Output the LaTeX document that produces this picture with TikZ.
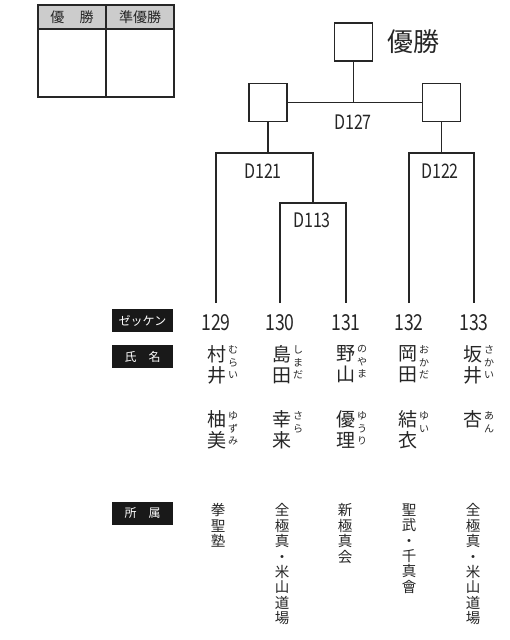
\documentclass[tikz,border=0pt]{standalone}
\usepackage{fontspec}
\setmainfont{Noto Sans CJK JP}
\newfontfamily\numfont[FakeStretch=0.8]{Noto Sans CJK JP}
\usetikzlibrary{positioning}

\begin{document}
\begin{tikzpicture}[x=1pt,y=-1pt,line width=1.4pt,color=black!85,
    winbox/.style={draw,minimum size=38pt,inner sep=0pt},
    num/.style={inner sep=0pt,font=\numfont\fontsize{22}{22}\selectfont},
    mlabel/.style={inner sep=0pt,font=\numfont\fontsize{20}{20}\selectfont},
    hdr/.style={inner sep=0pt,font=\fontsize{14}{14}\selectfont},
    tag/.style={fill=black!90,text=white,minimum width=61pt,minimum height=23pt,inner sep=0pt,font=\fontsize{12}{12}\selectfont},
    kanji/.style={anchor=north,inner sep=0pt,align=center,font=\fontsize{19}{20.5}\selectfont},
    kana/.style={anchor=north west,inner sep=0pt,align=center,font=\fontsize{10}{12.5}\selectfont},
    club/.style={anchor=north,inner sep=0pt,align=center,font=\fontsize{14.5}{15.4}\selectfont}]

    \useasboundingbox (0,0) rectangle (509,640);

    %draw table:
    \fill[black!20] (38,5) rectangle (174,29);
    \draw (38,5) rectangle (174,97);
    \draw (38,29) -- (174,29);
    \draw (106,5) -- (106,97);
    \node[hdr] (hwin) at (72,17) {優\hspace{1.1em}勝};
    \node[hdr] (hrun) at (140,17) {準優勝};

    %draw boxes:
    \node[winbox] (fin) at (353.5,42) {};
    \node[right=14pt of fin,inner sep=0pt,font=\fontsize{26}{26}\selectfont] (champ) {優勝};
    \node[winbox] (semi1) at (268,102.5) {};
    \node[winbox] (semi2) at (441.5,102.5) {};
    \coordinate (m127) at (fin |- semi1);
    \draw (semi1) -- (semi2);
    \draw (fin) -- (m127);
    \node[mlabel] (l127) at (353,122) {D127};

    %draw bracket:
    \foreach \n/\x in {129/216,130/280,131/346,132/409,133/474}{
        \node[num] (n\n) at (\x,323) {\n};
        \coordinate (b\n) at (\x,303);
    }
    \coordinate (t121) at (268,153);
    \coordinate (t113) at (313,203);
    \coordinate (t122) at (441.5,153);
    \draw (semi1) -- (t121);
    \draw (semi2) -- (t122);
    \draw (b130) |- (t113) -| (b131);
    \draw (b129) |- (t121) -| (t113);
    \draw (b132) |- (t122) -| (b133);
    \node[mlabel] (l121) at (263,171) {D121};
    \node[mlabel] (l122) at (440,171) {D122};
    \node[mlabel] (l113) at (312,220) {D113};

    %row tags:
    \node[tag] (tzek) at (142.5,320.5) {ゼッケン};
    \node[tag] (tname) at (142.5,356.5) {氏\hspace{1em}名};
    \node[tag] (tclub) at (142.5,513) {所\hspace{1em}属};

    %names:
    \node[kanji] (s129) at (217,345) {村\\井};
    \node[kana] (r129) at (227.5,345) {む\\ら\\い};
    \node[kanji] (g129) at (217,410) {柚\\美};
    \node[kana] (q129) at (227.5,411) {ゆ\\ず\\み};

    \node[kanji] (s130) at (282,345) {島\\田};
    \node[kana] (r130) at (292.5,345) {し\\ま\\だ};
    \node[kanji] (g130) at (282,410) {幸\\来};
    \node[kana] (q130) at (292.5,411) {さ\\ら};

    \node[kanji] (s131) at (346,345) {野\\山};
    \node[kana] (r131) at (356.5,345) {の\\や\\ま};
    \node[kanji] (g131) at (346,410) {優\\理};
    \node[kana] (q131) at (356.5,411) {ゆ\\う\\り};

    \node[kanji] (s132) at (408,345) {岡\\田};
    \node[kana] (r132) at (418.5,345) {お\\か\\だ};
    \node[kanji] (g132) at (408,410) {結\\衣};
    \node[kana] (q132) at (418.5,411) {ゆ\\い};

    \node[kanji] (s133) at (473,345) {坂\\井};
    \node[kana] (r133) at (483.5,345) {さ\\か\\い};
    \node[kanji] (g133) at (473,410) {杏};
    \node[kana] (q133) at (483.5,411) {あ\\ん};

    %clubs:
    \node[club] (c129) at (218,503) {拳\\聖\\塾};
    \node[club] (c130) at (282,503) {全\\極\\真\\・\\米\\山\\道\\場};
    \node[club] (c131) at (345,503) {新\\極\\真\\会};
    \node[club] (c132) at (409,503) {聖\\武\\・\\千\\真\\會};
    \node[club] (c133) at (473,503) {全\\極\\真\\・\\米\\山\\道\\場};

\end{tikzpicture}
\end{document}
